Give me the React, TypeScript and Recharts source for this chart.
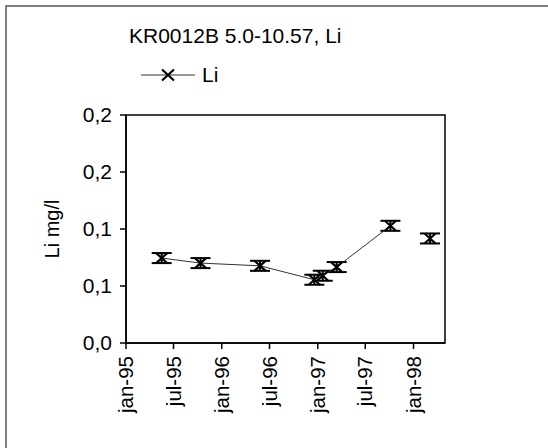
import { LineChart, Line, XAxis, YAxis, ErrorBar, Legend, ReferenceArea } from "recharts";

// sample dates (yyyy-mm-dd); the null value marks the gap in the series
const SAMPLE_DATES = [
  "1995-05-17", "1995-10-12", "1996-05-26", "1996-12-19",
  "1997-01-20", "1997-03-14", "1997-10-05", "1997-12-20", "1998-03-05",
];
const LI_VALUES: (number | null)[] = [0.0745, 0.0701, 0.0677, 0.0555, 0.059, 0.0666, 0.1028, null, 0.0917];
const LI_ERRORS = [0.0044, 0.0044, 0.0044, 0.0044, 0.0044, 0.0044, 0.0044, 0, 0.0044];

const X_TICKS = ["1995-01-01", "1995-07-01", "1996-01-01", "1996-07-01", "1997-01-01", "1997-07-01", "1998-01-01"];
const X_DOMAIN = ["1995-01-01", "1998-05-01"];
const Y_TICKS = [0, 0.05, 0.1, 0.15, 0.2];
const MONTHS = ["jan", "feb", "mar", "apr", "maj", "jun", "jul", "aug", "sep", "okt", "nov", "dec"];

const ts = (s: string) => {
  const [y, m, d] = s.split("-").map(Number);
  return Date.UTC(y, m - 1, d);
};

const data = SAMPLE_DATES.map((d, i) => ({ t: ts(d), Li: LI_VALUES[i], err: LI_ERRORS[i] }));

const FONT = "'Liberation Sans', Arial, Helvetica, sans-serif";

const fmtDate = (v: number) => {
  const d = new Date(v);
  return `${MONTHS[d.getUTCMonth()]}-${String(d.getUTCFullYear()).slice(2)}`;
};

// eslint-disable-next-line @typescript-eslint/no-explicit-any
const XTick = ({ x, y, payload }: any) => (
  <g transform={`translate(${x},${y})`}>
    <text transform="rotate(-90)" x={-5} y={0} dy="0.35em" textAnchor="end" fontSize={20.5} fill="#000">
      {fmtDate(payload.value)}
    </text>
  </g>
);

const XMark = ({ cx, cy, r = 5.5 }: { cx: number; cy: number; r?: number }) => (
  <path
    d={`M${cx - r},${cy - r + 0.5} L${cx + r},${cy + r - 0.5} M${cx - r},${cy + r - 0.5} L${cx + r},${cy - r + 0.5}`}
    stroke="#000"
    strokeWidth={2.2}
    fill="none"
  />
);

// eslint-disable-next-line @typescript-eslint/no-explicit-any
const Dot = (props: any) => {
  const { cx, cy, value } = props;
  if (value == null || cx == null || cy == null) return <g key={props.index} />;
  return <XMark key={props.index} cx={cx} cy={cy} />;
};

const LegendContent = () => (
  <svg width={90} height={24}>
    <line x1={0} y1={11} x2={54} y2={11} stroke="#333" strokeWidth={1} />
    <XMark cx={27} cy={11} r={6} />
    <text x={61} y={18} fontSize={21} fill="#000" fontFamily={FONT}>Li</text>
  </svg>
);

// eslint-disable-next-line @typescript-eslint/no-explicit-any
const YLabel = ({ viewBox }: any) => {
  const cx = viewBox.x + 52;
  const cy = viewBox.y + viewBox.height / 2;
  return (
    <text transform={`translate(${cx},${cy}) rotate(-90)`} textAnchor="middle" dy="0.35em" fontSize={20} fill="#000">
      Li mg/l
    </text>
  );
};

export default function App() {
  return (
    <div style={{ position: "absolute", left: 0, top: 0, width: 548, height: 448, background: "#fff", fontFamily: FONT }}>
      <div
        style={{
          position: "absolute", left: 5, top: 5, right: 0, bottom: 0,
          borderTop: "2px solid #808080", borderLeft: "2px solid #808080",
        }}
      />
      <div style={{ position: "absolute", left: 129, top: 25, fontSize: 21, lineHeight: "21px", color: "#000", whiteSpace: "nowrap" }}>
        KR0012B 5.0-10.57, Li
      </div>
      <LineChart
        width={548}
        height={448}
        data={data}
        margin={{ top: 115, right: 103, bottom: 0, left: 0 }}
        style={{ position: "absolute", left: 0, top: 0, fontFamily: FONT }}
      >
        <XAxis
          dataKey="t"
          type="number"
          scale="time"
          domain={[ts(X_DOMAIN[0]), ts(X_DOMAIN[1])]}
          ticks={X_TICKS.map(ts)}
          interval={0}
          tick={<XTick />}
          tickSize={6}
          height={105}
          stroke="#000"
          strokeWidth={1.5}
          allowDataOverflow
        />
        <YAxis
          type="number"
          domain={[0, 0.2]}
          ticks={Y_TICKS}
          interval={0}
          width={126}
          tickSize={6}
          tickMargin={8}
          tick={{ fontSize: 21, fill: "#000" }}
          tickFormatter={(v: number) => (Math.round(v * 10) / 10).toFixed(1).replace(".", ",")}
          stroke="#000"
          strokeWidth={1.5}
          label={{ content: <YLabel /> }}
        />
        <ReferenceArea
          x1={ts(X_DOMAIN[0])}
          x2={ts(X_DOMAIN[1])}
          y1={0}
          y2={0.2}
          fill="none"
          fillOpacity={0}
          stroke="#000"
          strokeWidth={1.5}
        />
        <Legend
          layout="horizontal"
          verticalAlign="middle"
          content={<LegendContent />}
          wrapperStyle={{ position: "absolute", left: 141, top: 64, width: 90, height: 24 }}
        />
        <Line
          dataKey="Li"
          name="Li"
          type="linear"
          stroke="#333"
          strokeWidth={1}
          dot={<Dot />}
          activeDot={false}
          connectNulls={false}
          isAnimationActive={false}
        >
          <ErrorBar dataKey="err" direction="y" width={10} stroke="#000" strokeWidth={2} isAnimationActive={false} />
        </Line>
      </LineChart>
    </div>
  );
}
